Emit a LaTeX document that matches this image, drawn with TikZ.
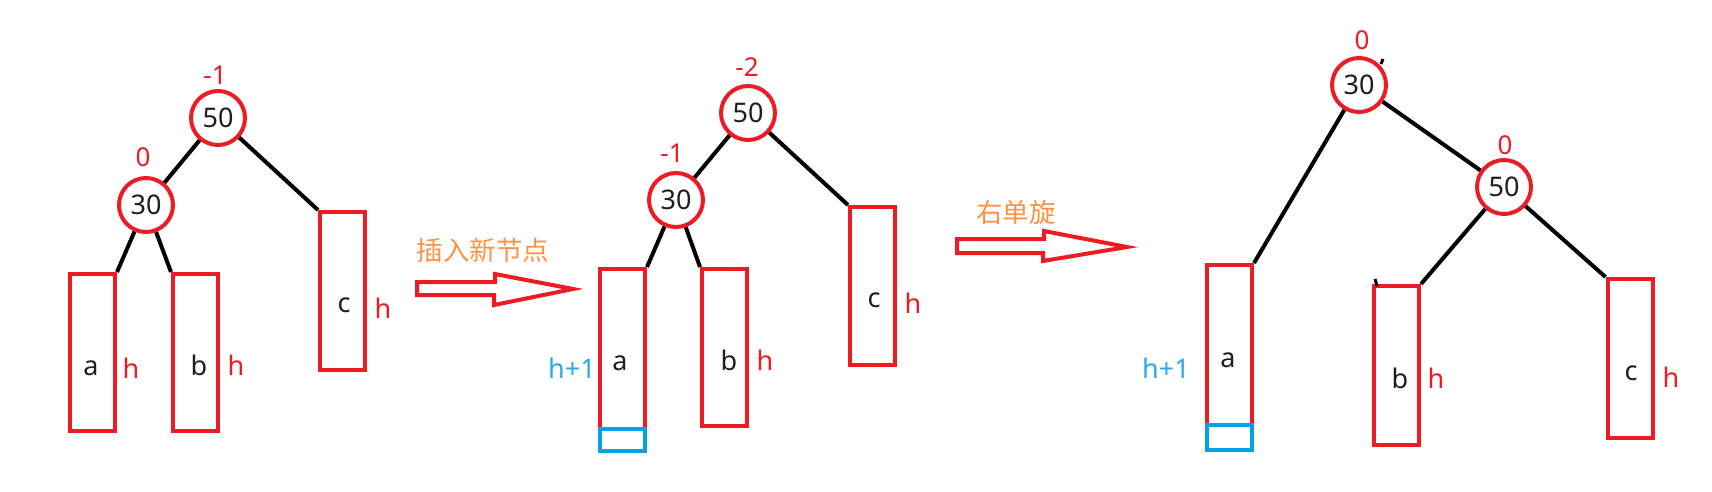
\documentclass[tikz,border=0pt]{standalone}
\usepackage{fontspec}
\setmainfont{Noto Sans}
\newfontfamily\cjk{Noto Sans CJK SC}
\definecolor{pred}{RGB}{237,28,36}
\definecolor{pblue}{RGB}{0,162,232}
\definecolor{tblue}{RGB}{40,170,235}
\definecolor{porange}{RGB}{255,145,70}
\definecolor{ptext}{RGB}{30,30,30}
\begin{document}
\begin{tikzpicture}[x=1pt,y=-1pt,
  tnode/.style={circle, draw=pred, line width=4pt, minimum size=54pt, inner sep=0pt, fill=white,
    font=\fontsize{27}{30}\selectfont, text=ptext},
  sub/.style={draw=pred, line width=4pt, minimum width=45pt, inner sep=0pt},
  newbox/.style={draw=pblue, line width=4pt, minimum width=45pt, minimum height=22pt, inner sep=0pt},
  bal/.style={text=pred, font=\fontsize{26}{30}\selectfont, inner sep=0pt},
  hlab/.style={text=pred, font=\fontsize{27}{30}\selectfont, inner sep=0pt},
  hblue/.style={text=tblue, font=\fontsize{27}{30}\selectfont, inner sep=0pt},
  letr/.style={text=ptext, font=\fontsize{27}{30}\selectfont, inner sep=0pt},
  cnlab/.style={text=porange, font=\cjk\fontsize{26.5}{30}\selectfont, inner sep=0pt},
  edgeline/.style={line width=4pt, black},
  bigarrow/.style={draw=pred, line width=4pt, line join=miter},
  stray/.style={line width=3pt, black}
]
\useasboundingbox (0,0) rectangle (1712,491);

% ---------- panel 1 ----------
\node[sub, minimum height=157pt] (a1) at (92.5,352.5) {};
\node[sub, minimum height=157pt] (b1) at (195.5,352.5) {};
\node[sub, minimum height=158pt] (c1) at (342.5,291) {};
\node[tnode] (n50a) at (218,118) {50};
\node[tnode] (n30a) at (146,205) {30};
\node[bal] (bf50a) at (215,75) {-1};
\node[bal] (bf30a) at (143,157) {0};
\draw[edgeline] (n50a) -- (n30a);
\draw[edgeline] (n50a) -- (c1.north west);
\draw[edgeline] (n30a) -- (a1.north east);
\draw[edgeline] (n30a) -- (b1.north west);
\node[letr] (ta1) at (91,368) {a};
\node[hlab] (ha1) at (131,368) {h};
\node[letr] (tb1) at (199,365) {b};
\node[hlab] (hb1) at (236,365) {h};
\node[letr] (tc1) at (344,305) {c};
\node[hlab] (hc1) at (383,308) {h};

% ---------- arrow 1 ----------
\node[cnlab] (ins) at (483,250) {插入新节点};
\draw[bigarrow] (417,282) -- (495,282) -- (495,274) -- (573,289) -- (494,305) -- (494,295) -- (417,295) -- cycle;

% ---------- panel 2 ----------
\node[sub, minimum height=160pt] (a2) at (622.5,349) {};
\node[newbox] (new2) at (622.5,440) {};
\node[sub, minimum height=157pt] (b2) at (724.5,347.5) {};
\node[sub, minimum height=158pt] (c2) at (872.5,286) {};
\node[tnode] (n50b) at (748,113) {50};
\node[tnode] (n30b) at (676,200) {30};
\node[bal] (bf50b) at (747,67) {-2};
\node[bal] (bf30b) at (672,153) {-1};
\draw[edgeline] (n50b) -- (n30b);
\draw[edgeline] (n50b) -- (c2.north west);
\draw[edgeline] (n30b) -- (a2.north east);
\draw[edgeline] (n30b) -- (b2.north west);
\node[hblue] (ha2) at (572,368) {h+1};
\node[letr] (ta2) at (620,363) {a};
\node[letr] (tb2) at (729,360) {b};
\node[hlab] (hb2) at (765,360) {h};
\node[letr] (tc2) at (874,300) {c};
\node[hlab] (hc2) at (913,303) {h};

% ---------- arrow 2 ----------
\node[cnlab] (rot) at (1016,212) {右单旋};
\draw[bigarrow] (957,239) -- (1044,239) -- (1044,231) -- (1127,247) -- (1043,261) -- (1043,253) -- (957,253) -- cycle;

% ---------- panel 3 ----------
\node[sub, minimum height=160pt] (a3) at (1229.5,345) {};
\node[newbox, minimum height=25pt] (new3) at (1229.5,437.5) {};
\node[sub, minimum height=159pt] (b3) at (1396.5,365.5) {};
\node[sub, minimum height=159pt] (c3) at (1630,358.5) {};
\node[tnode] (n30c) at (1359,85) {30};
\node[tnode] (n50c) at (1504,187) {50};
\node[bal] (bf30c) at (1362,40) {0};
\node[bal] (bf50c) at (1505,145) {0};
\draw[edgeline] (n30c) -- (a3.north east);
\draw[edgeline] (n30c) -- (n50c);
\draw[edgeline] (n50c) -- (b3.north east);
\draw[edgeline] (n50c) -- (c3.north west);
\draw[stray] (1381,64) -- (1383,59);
\draw[stray] (1375,279) -- (1377,286);
\node[hblue] (ha3) at (1166,368) {h+1};
\node[letr] (ta3) at (1228,360) {a};
\node[letr] (tb3) at (1400,378) {b};
\node[hlab] (hb3) at (1436,378) {h};
\node[letr] (tc3) at (1631,373) {c};
\node[hlab] (hc3) at (1671,377) {h};
\end{tikzpicture}
\end{document}
